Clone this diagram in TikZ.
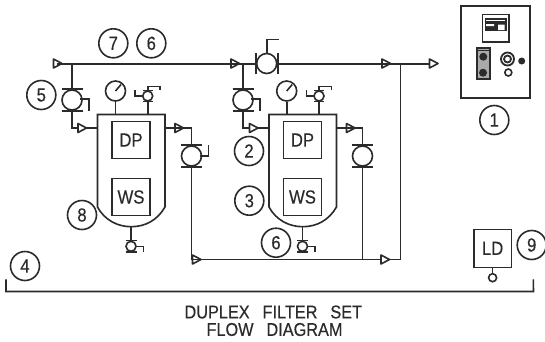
\documentclass[tikz,border=0pt]{standalone}
\usepackage{fontspec}
\setmainfont[FakeStretch=0.88,FakeBold=0.35]{Liberation Sans}
\definecolor{ink}{HTML}{2B2B2B}
\tikzset{
  lw/.style={line width=1.6pt},
  pipe/.style={lw,draw=ink},
  mainpipe/.style={line width=2pt,draw=ink},
  tag/.style={circle,draw=ink,lw,minimum size=29pt,inner sep=0pt,font=\fontsize{19}{19}\selectfont,text=ink},
  ball/.style={circle,draw=ink,fill=white,lw,minimum size=20pt,inner sep=0pt},
  smallball/.style={circle,draw=ink,fill=white,lw,minimum size=10pt,inner sep=0pt},
  gaugeface/.style={circle,draw=ink,fill=white,lw,minimum size=20pt,inner sep=0pt},
  labelbox/.style={rectangle,draw=ink,fill=white,lw,minimum width=38pt,minimum height=37pt,inner sep=0pt,font=\fontsize{19}{19}\selectfont,text=ink},
  flow/.pic={\draw[lw,draw=ink,fill=white,line join=round] (-4,-4.5)--(4.5,0)--(-4,4.5)--cycle;},
  flowsolid/.pic={\draw[lw,draw=ink,line join=round] (-4,-4.5)--(4.5,0)--(-4,4.5)--cycle;},
  bars/.pic={\draw[lw,draw=ink] (-10.5,-11)--(10.5,-11) (-10.5,11)--(10.5,11);},
  inhandle/.pic={\draw[lw,draw=ink] (8,-1)--(17,-1)--(17,11);},
  outhandle/.pic={\draw[lw,draw=ink] (8,0)--(17,0)--(17,-11);},
  ventvalve/.pic={\draw[lw,draw=ink] (-5,-5.5)--(5,-5.5) (-5,5.5)--(5,5.5) (0,-5.5)--(0,-9.5)--(12.3,-9.5)--(12.3,-6) (-5,0)--(-12.7,0)--(-12.7,-6);},
  drainvalve/.pic={\draw[lw,draw=ink] (-5.5,-6)--(5.5,-6) (-5.5,5.5)--(5.5,5.5) (5,0)--(12.3,0)--(12.3,5.5);},
}
\newcommand{\tank}[1]{%
  \draw[pipe,fill=white] (#1,114.5) -- (#1+67.5,114.5) -- (#1+67.5,207)
     .. controls (#1+60,220) and (#1+48,226.7) .. (#1+33.7,226.7)
     .. controls (#1+20,226.7) and (#1+7,220) .. (#1,207) -- cycle;
}
\begin{document}
\begin{tikzpicture}[x=1pt,y=-1pt]
\useasboundingbox (0,0) rectangle (545,341);
\fill[white] (0,0) rectangle (545,341);

% junctions and free ends
\coordinate (inlet) at (57,63.5);
\coordinate (j1) at (72,63.5);
\coordinate (j2) at (243,63.5);
\coordinate (j3) at (400.5,63.5);
\coordinate (outlet) at (430,63.5);
\coordinate (b1) at (191.5,259.5);
\coordinate (b2) at (362.5,259.5);
\coordinate (b3) at (400.5,259.5);
\coordinate (e1) at (72,128);
\coordinate (e2) at (243,128);
\coordinate (t1in) at (97.5,128);
\coordinate (t2in) at (269,128);
\coordinate (t1out) at (165,128);
\coordinate (t2out) at (336.5,128);
\coordinate (o1) at (191.5,128);
\coordinate (o2) at (362.5,128);

% tanks
\tank{97.5}
\tank{269}

% process piping
\node[ball] (v5) at (72,100) {};
\node[ball] (v2) at (243,100) {};
\node[ball] (vm) at (266.7,63.5) {};
\node[ball] (vo1) at (191.5,156) {};
\node[ball] (vo2) at (362.5,156) {};
\draw[mainpipe] (inlet) -- (vm.west);
\draw[mainpipe] (vm.east) -- (outlet);
\draw[pipe] (j1) -- (v5.north);
\draw[pipe] (v5.south) -- (e1) -- (t1in);
\draw[pipe] (j2) -- (v2.north);
\draw[pipe] (v2.south) -- (e2) -- (t2in);
\draw[pipe] (t1out) -- (o1) -- (vo1.north);
\draw[pipe] (t2out) -- (o2) -- (vo2.north);
\draw[pipe] (vo1.south) -- (b1) -- (b3) -- (j3);
\draw[pipe] (vo2.south) -- (b2);

% boxes in the tanks
\node[labelbox] (dp1) at (131,140) {DP};
\node[labelbox] (ws1) at (131,197) {WS};
\node[labelbox] (dp2) at (302.5,140) {DP};
\node[labelbox] (ws2) at (302.5,197) {WS};

% valve details
\pic at (v5) {bars};
\pic at (v2) {bars};
\pic at (vo1) {bars};
\pic at (vo2) {bars};
\pic at (v5) {inhandle};
\pic at (v2) {inhandle};
\pic at (vo1) {outhandle};
\draw[lw,draw=ink] (255.7,53)--(255.7,74) (278,53)--(278,74) (vm.north)--(266.7,39.5)--(279,39.5);

% gauges
\node[gaugeface] (g1) at (115.5,91) {};
\node[gaugeface] (g2) at (286.7,91) {};
\draw[pipe] (g1.south) -- (115.5,114.5);
\draw[pipe] (g2.south) -- (286.7,114.5);
\draw[pipe] (g1.center) -- +(5.5,-6.5);
\draw[pipe] (g2.center) -- +(5.5,-6.5);

% vent valves
\node[smallball] (sv1) at (147.7,96) {};
\node[smallball] (sv2) at (319,96) {};
\draw[pipe] (sv1.south) -- (147.7,114.5);
\draw[pipe] (sv2.south) -- (319,114.5);
\pic at (sv1) {ventvalve};
\pic at (sv2) {ventvalve};

% drain valves
\node[smallball] (dv1) at (131,246.3) {};
\node[smallball] (dv2) at (302.5,246.3) {};
\draw[pipe] (131,226.7) -- (dv1.north);
\draw[pipe] (302.5,226.7) -- (dv2.north);
\pic at (dv1) {drainvalve};
\pic at (dv2) {drainvalve};

% flow arrows
\pic at (57.5,63.5) {flowsolid};
\pic at (235,63.5) {flowsolid};
\pic at (386,63.5) {flowsolid};
\pic at (433.5,63.5) {flow};
\pic at (82,128) {flow};
\pic at (253.5,128) {flow};
\pic at (179,128) {flowsolid};
\pic at (350.5,128) {flowsolid};
\pic at (196.5,259.5) {flowsolid};
\pic at (385,259.5) {flow};

% control panel
\node[draw=ink,line width=2pt,minimum width=69pt,minimum height=92pt,inner sep=0pt] (panel) at (495.5,51.7) {};
\node[draw=ink,lw,minimum width=26.5pt,minimum height=27.5pt,inner sep=0pt] (screen) at (495.7,28.2) {};
\fill[ink] (484.5,18) rectangle (507,31);
\fill[white] (498,24.5) rectangle (504.5,30) (486,24) rectangle (494,26);
\fill[white] (486,19.5) rectangle (505,20.5);
\node[draw=ink,line width=1.8pt,fill=white!60!ink,minimum width=13pt,minimum height=31.5pt,inner sep=0pt] (strip) at (483.3,63.5) {};
\draw[lw,draw=ink] (476.7,50.5)--(490,50.5);
\node[circle,fill=ink,minimum size=8pt,inner sep=0pt] (k1) at (483.3,56.7) {};
\node[circle,fill=ink,minimum size=8pt,inner sep=0pt] (k2) at (483,72.7) {};
\node[circle,draw=ink,line width=1.8pt,minimum size=13pt,inner sep=0pt] (ring) at (507.5,59) {};
\node[circle,draw=ink,line width=1.8pt,minimum size=7pt,inner sep=0pt] (ringin) at (507.5,59) {};
\node[circle,fill=ink,minimum size=7pt,inner sep=0pt] (dot) at (521.7,61) {};
\node[circle,draw=ink,line width=1.6pt,minimum size=7pt,inner sep=0pt] (lamp) at (508.3,72.5) {};

% leak detector
\node[draw=ink,lw,minimum width=37.5pt,minimum height=38pt,inner sep=0pt,font=\fontsize{19}{19}\selectfont,text=ink] (ld) at (492.6,248.3) {LD};
\node[circle,draw=ink,lw,minimum size=8pt,inner sep=0pt] (ldp) at (492.6,277.7) {};
\draw[pipe] (ld.south) -- (ldp.north);

% item tags
\node[tag] (t7) at (113.3,43.3) {7};
\node[tag] (t6) at (151.3,43.3) {6};
\node[tag] (t5) at (41.3,95) {5};
\node[tag] (t1) at (494.3,120) {1};
\node[tag] (t2) at (249,151) {2};
\node[tag] (t3) at (249.3,200.7) {3};
\node[tag] (t8) at (82,215) {8};
\node[tag] (t4) at (25,266) {4};
\node[tag] (t6b) at (276,242.7) {6};
\node[tag] (t9) at (531.7,245) {9};

% bracket
\coordinate (bl) at (6,279.3);
\coordinate (br) at (533.3,279.3);
\draw[pipe] (bl) -- (6,291.5) -- (533.5,291.5) -- (br);

% title
\node[font=\fontsize{18.5}{18.5}\selectfont,text=ink,inner sep=0pt] (title1) at (273.3,312) {DUPLEX\hspace{0.7em}FILTER\hspace{0.7em}SET};
\node[font=\fontsize{18.5}{18.5}\selectfont,text=ink,inner sep=0pt] (title2) at (274.5,329.5) {FLOW\hspace{0.7em}DIAGRAM};
\end{tikzpicture}
\end{document}
